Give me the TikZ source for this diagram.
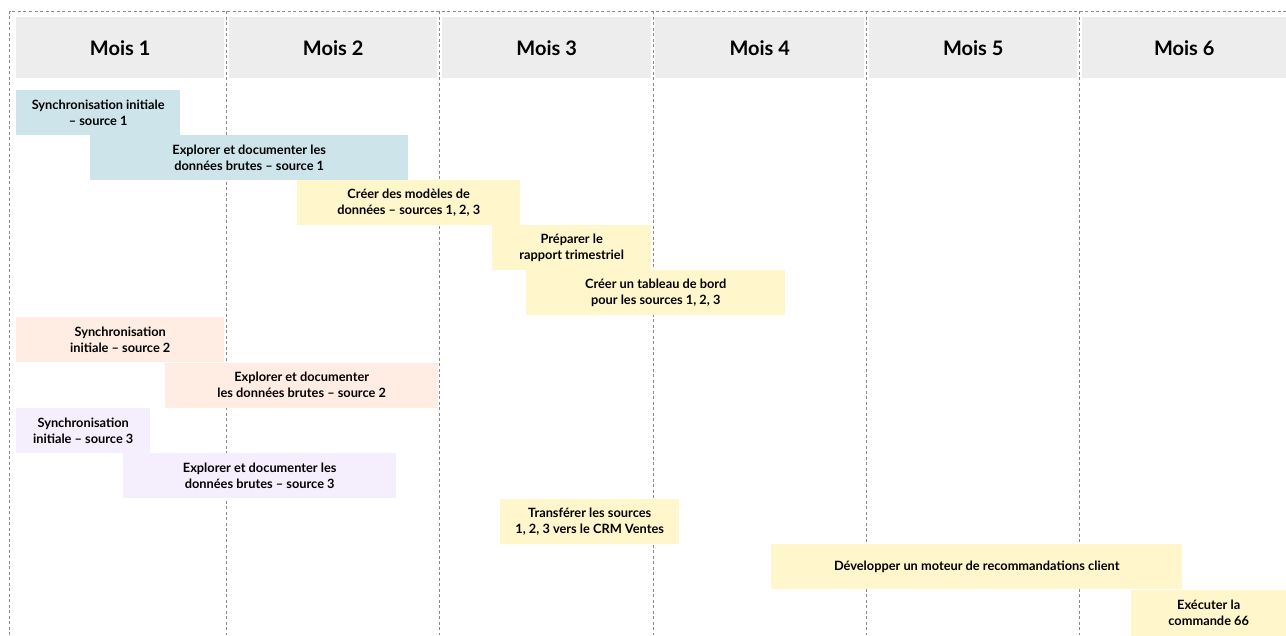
\documentclass[tikz,border=0pt]{standalone}
\usepackage{fontspec}
\setmainfont{Lato}
\definecolor{headgray}{HTML}{EDEDED}
\definecolor{gridgray}{HTML}{8A8A8A}
\definecolor{barblue}{HTML}{CDE4EA}
\definecolor{baryellow}{HTML}{FFF6CC}
\definecolor{barorange}{HTML}{FFEDE4}
\definecolor{barpurple}{HTML}{F5EEFD}
\begin{document}
\begin{tikzpicture}[
    x=1pt, y=-1pt,
    grid/.style={draw=gridgray, dash pattern=on 3pt off 2.5pt, line width=0.7pt},
    month/.style={fill=headgray, anchor=north west, minimum height=61pt,
      inner sep=0pt, font=\fontsize{20}{24}\selectfont\bfseries},
    task/.style={anchor=north west, minimum width=#1, minimum height=45pt,
      inner sep=0pt, align=center, font=\fontsize{12.8}{16}\selectfont\bfseries}
  ]
  \useasboundingbox (0,0) rectangle (1286,635);
  % frame and month dividers
  \draw[grid] (9.5,635) -- (9.5,11) -- (1286,11);
  \foreach \xd in {226,439.5,653,866.5,1079.5}
    \draw[grid] (\xd,11) -- (\xd,635);
  % month headers
  \foreach \i/\xa/\w in {1/16/208pt,2/229/208pt,3/442/209pt,4/655/209pt,5/869/208pt,6/1082/204pt}
    \node[month, minimum width=\w] (m\i) at (\xa,17) {Mois \i};
  % tasks
  \node[task=164pt, fill=barblue] (sync1) at (16,90) {Synchronisation initiale\\– source 1};
  \node[task=318pt, fill=barblue] (expl1) at (90,135) {Explorer et documenter les\\données brutes – source 1};
  \node[task=223pt, fill=baryellow] (model) at (297,180) {Créer des modèles de\\données – sources 1, 2, 3};
  \node[task=159pt, fill=baryellow] (rapport) at (492,225) {Préparer le\\rapport trimestriel};
  \node[task=259pt, fill=baryellow] (tableau) at (526,270) {Créer un tableau de bord\\pour les sources 1, 2, 3};
  \node[task=208pt, fill=barorange] (sync2) at (16,317) {Synchronisation\\initiale – source 2};
  \node[task=273pt, fill=barorange] (expl2) at (165,362.5) {Explorer et documenter\\les données brutes – source 2};
  \node[task=134pt, fill=barpurple] (sync3) at (16,408) {Synchronisation\\initiale – source 3};
  \node[task=273pt, fill=barpurple] (expl3) at (123,453) {Explorer et documenter les\\données brutes – source 3};
  \node[task=179pt, fill=baryellow] (crm) at (500,499) {Transférer les sources\\1, 2, 3 vers le CRM Ventes};
  \node[task=411pt, fill=baryellow] (moteur) at (771,544) {Développer un moteur de recommandations client};
  \node[task=155pt, fill=baryellow, minimum height=46pt] (cmd) at (1131,589.5) {Exécuter la\\commande 66};
\end{tikzpicture}
\end{document}
